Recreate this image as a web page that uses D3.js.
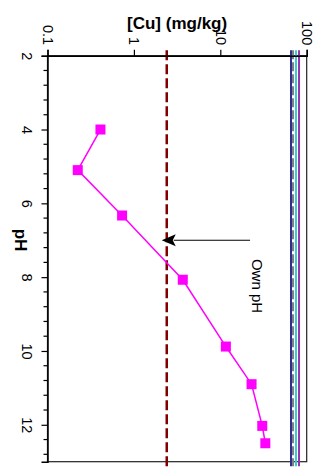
<!DOCTYPE html>
<html><head><meta charset="utf-8">
<script src="https://cdn.jsdelivr.net/npm/d3@7"></script>
<style>body{margin:0;background:#fff}svg{display:block}text{font-family:"Liberation Sans",Arial,sans-serif}</style>
</head><body>
<svg id="c" width="327" height="472"></svg>
<script>
const pH = [4.0, 5.1, 6.33, 8.07, 9.88, 10.9, 12.03, 12.5];
const cu = [0.41, 0.224, 0.73, 3.68, 11.6, 23.0, 30.6, 33.2];
const xTicks = [0.1, 1, 10, 100];
const xTickLabels = ["0.1", "1", "10", "100"];
const yTicks = [2, 4, 6, 8, 10, 12];
const refValues = [2.4, 65.8, 69.4, 75.2, 81.5];
const refColors = ["#800000", "#2e2e8c", "#808080", "#33ccdd", "#9933aa"];
const refDash = ["10,4", null, "9,3", null, null];
const ownPH = 7.0;
const arrowFrom = 22.1, arrowTo = 2.1;

const svg = d3.select("#c");
const L = 47.5, R = 306.7, T = 55.7, B = 461.7;
const x = d3.scaleLog().domain([0.1, 100]).range([L, R]);
const y = d3.scaleLinear().domain([2, 13]).range([T, B]);

// frame
svg.append("rect").attr("x", L).attr("y", T).attr("width", R - L).attr("height", B - T)
  .attr("fill", "none").attr("stroke", "#222").attr("stroke-width", 1.2);

// reference lines
refValues.forEach((v, i) => {
  svg.append("line").attr("x1", x(v)).attr("x2", x(v))
    .attr("y1", y(1.85)).attr("y2", y(13.12))
    .attr("stroke", refColors[i]).attr("stroke-width", i === 0 ? 2.5 : 2)
    .attr("stroke-dasharray", refDash[i]);
});

// top axis
const gx = svg.append("g").attr("transform", `translate(0,${T})`)
  .call(d3.axisTop(x).tickValues(xTicks).tickSize(6).tickFormat((d, i) => xTickLabels[i]));
gx.select(".domain").attr("stroke", "#000").attr("stroke-width", 1.5);
gx.selectAll(".tick line").attr("stroke", "#000").attr("stroke-width", 1.2);
gx.selectAll(".tick text").attr("font-size", 14.5).attr("fill", "#000")
  .attr("text-anchor", "end").attr("dominant-baseline", "central")
  .attr("transform", "translate(0,-10.5) rotate(90)").attr("x", 0).attr("y", 0).attr("dy", null);

// left axis
const gy = svg.append("g").attr("transform", `translate(${L},0)`)
  .call(d3.axisLeft(y).tickValues(yTicks).tickSize(6).tickFormat(d3.format("d")));
gy.select(".domain").attr("stroke", "#000").attr("stroke-width", 1.5);
gy.selectAll(".tick line").attr("stroke", "#000").attr("stroke-width", 1.2);
gy.selectAll(".tick text").attr("font-size", 14.5).attr("fill", "#000")
  .attr("text-anchor", "middle").attr("dominant-baseline", "central")
  .attr("transform", "translate(-20.5,0) rotate(90)").attr("x", 0).attr("dy", null);
const minor = d3.range(2, 13.01, 0.4).map(v => Math.round(v * 10) / 10).filter(v => !yTicks.includes(v));
svg.append("g").selectAll("line").data(minor).join("line")
  .attr("x1", L - 4).attr("x2", L).attr("y1", d => y(d)).attr("y2", d => y(d))
  .attr("stroke", "#000").attr("stroke-width", 1.2);

// axis titles
svg.append("text").attr("x", (L + R) / 2).attr("y", 29).attr("text-anchor", "middle")
  .attr("font-size", 17).attr("font-weight", "bold").text("[Cu] (mg/kg)");
svg.append("text").attr("transform", `translate(20,240) rotate(90)`).attr("text-anchor", "middle")
  .attr("dominant-baseline", "central").attr("font-size", 17).attr("font-weight", "bold").text("pH");

// series
const pts = pH.map((p, i) => ({p, c: cu[i]}));
svg.append("path").datum(pts)
  .attr("d", d3.line().x(d => x(d.c)).y(d => y(d.p)))
  .attr("fill", "none").attr("stroke", "#ff00ff").attr("stroke-width", 1.5);
svg.append("g").selectAll("rect").data(pts).join("rect")
  .attr("x", d => x(d.c) - 5).attr("y", d => y(d.p) - 5).attr("width", 10).attr("height", 10)
  .attr("fill", "#ff00ff");

// annotation arrow
const ax1 = x(arrowFrom), ax2 = x(arrowTo), ay = y(ownPH);
svg.append("line").attr("x1", ax1).attr("x2", ax2 + 12).attr("y1", ay).attr("y2", ay)
  .attr("stroke", "#000").attr("stroke-width", 1.2);
svg.append("path").attr("d", `M${ax2},${ay} L${ax2 + 14},${ay - 6} L${ax2 + 11},${ay} L${ax2 + 14},${ay + 6} Z`)
  .attr("fill", "#000");
svg.append("text").attr("transform", `translate(${x(27.3)},${y(8.24)}) rotate(90)`)
  .attr("text-anchor", "middle").attr("dominant-baseline", "central")
  .attr("font-size", 15).text("Own pH");
</script>
</body></html>
